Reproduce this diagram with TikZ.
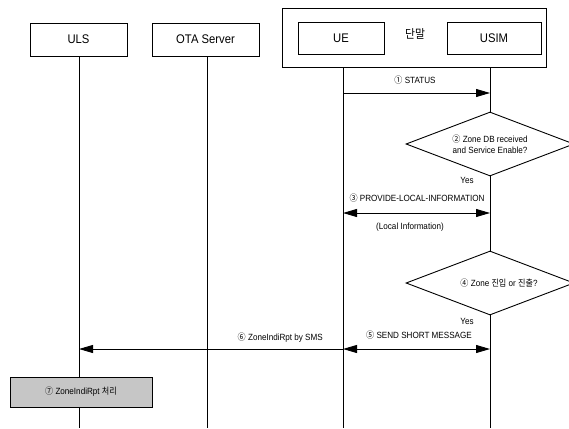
\documentclass[tikz,border=0pt]{standalone}
\usepackage{fontspec}
\setmainfont[FakeStretch=0.9]{Liberation Sans}
\newfontfamily\cjk[FakeStretch=0.9]{Noto Sans CJK KR}
\usetikzlibrary{arrows.meta,shapes.geometric}
\newcommand\cnum[1]{{\cjk #1}}
\begin{document}
\begin{tikzpicture}[x=1pt,y=-1pt,
  actor/.style={draw,line width=0.9pt,minimum width=#1,minimum height=33pt,inner sep=0pt,font=\fontsize{12.5}{14}\selectfont},
  lifeline/.style={line width=0.7pt},
  msg/.style={line width=0.9pt,-{Triangle[length=14pt,width=8pt]}},
  dmsg/.style={line width=0.9pt,{Triangle[length=14pt,width=8pt]}-{Triangle[length=14pt,width=8pt]}},
  lbl/.style={font=\fontsize{9}{10}\selectfont,inner sep=1pt},
  decision/.style={diamond,draw,line width=0.9pt,aspect=2.6,minimum width=168pt,minimum height=64pt,inner sep=0pt,align=center,font=\fontsize{9}{11.5}\selectfont}]
\useasboundingbox (0,0) rectangle (569,428);
% outer terminal box
\node[draw,line width=0.9pt,minimum width=264pt,minimum height=59pt,inner sep=0pt] (term) at (414,38) {};
\node[font=\cjk\fontsize{12}{13}\selectfont] (termlbl) at (415,34) {단말};
% actors
\node[actor=97pt] (uls) at (78.5,39.5) {ULS};
\node[actor=107pt] (ota) at (205.5,39.5) {OTA Server};
\node[actor=86pt,minimum height=32pt] (ue) at (341,38) {UE};
\node[actor=94pt,minimum height=32pt] (usim) at (494,38) {USIM};
% lifeline coordinates
\coordinate (ulsT) at (79,56);   \coordinate (ulsB) at (79,428);
\coordinate (otaT) at (207,56);  \coordinate (otaB) at (207,428);
\coordinate (ueT) at (343,67);   \coordinate (ueB) at (343,428);
\coordinate (usimT) at (490,67); \coordinate (usimB) at (490,428);
% decisions
\node[decision] (d1) at (490,144) {\cnum{②} Zone DB received\\and Service Enable?};
\node[decision] (d2) at (490,283) {\hspace*{18pt}\cnum{④} Zone {\cjk 진입} or {\cjk 진출}?};
% lifelines
\draw[lifeline] (ulsT) -- (ulsB);
\draw[lifeline] (otaT) -- (otaB);
\draw[lifeline] (ueT) -- (ueB);
\draw[lifeline] (usimT) -- (d1.north);
\draw[lifeline] (d1.south) -- (d2.north);
\draw[lifeline] (d2.south) -- (usimB);
% message coordinates
\coordinate (m1a) at (343,93);  \coordinate (m1b) at (490,93);
\coordinate (m3a) at (343,213); \coordinate (m3b) at (490,213);
\coordinate (m5a) at (343,349); \coordinate (m5b) at (490,349);
\coordinate (m6b) at (79,349);
% messages
\draw[msg] (m1a) -- (m1b);
\node[lbl] (l1) at (415,80) {\cnum{①} STATUS};
\node[lbl] (y1) at (467,180) {Yes};
\draw[dmsg] (m3a) -- (m3b);
\node[lbl] (l3) at (417,198) {\cnum{③} PROVIDE-LOCAL-INFORMATION};
\node[lbl] (l3b) at (410,227) {(Local Information)};
\node[lbl] (y2) at (467,321) {Yes};
\draw[dmsg] (m5a) -- (m5b);
\node[lbl] (l5) at (419,335) {\cnum{⑤} SEND SHORT MESSAGE};
\draw[msg] (m5a) -- (m6b);
\node[lbl,anchor=east] (l6) at (324,338) {\cnum{⑥} ZoneIndiRpt by SMS};
% process box
\node[draw,line width=0.9pt,fill=gray!45,minimum width=142pt,minimum height=30pt,inner sep=0pt,font=\fontsize{9}{10}\selectfont] (proc) at (81,392) {\cnum{⑦} ZoneIndiRpt {\cjk 처리}};
\end{tikzpicture}
\end{document}
